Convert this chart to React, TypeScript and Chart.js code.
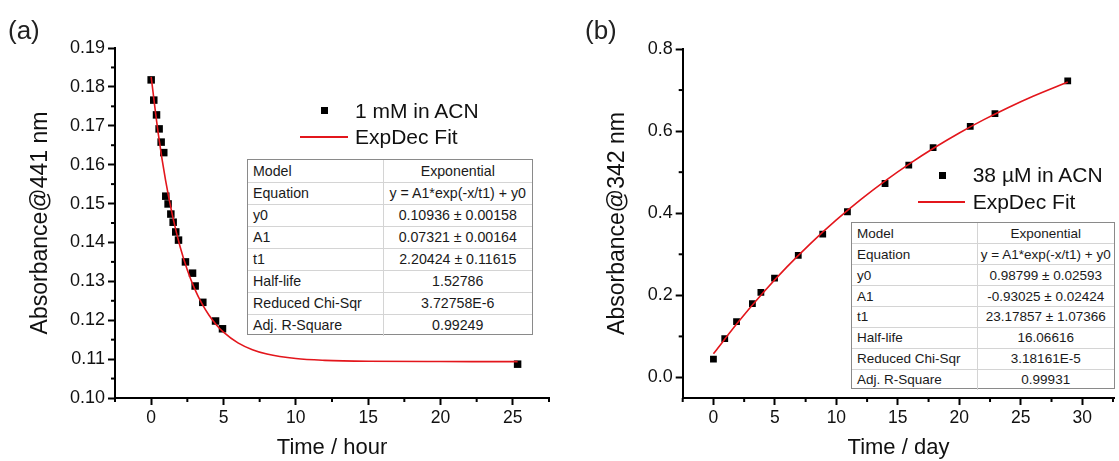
import React, { useEffect, useRef } from "react";
import { Chart, registerables } from "chart.js";
Chart.register(...registerables);

const FONT = "'Liberation Sans', Arial, sans-serif";
const RED = "#e3161c";

// ---------- Panel (a) ----------
const timeHourA = [0.0, 0.18, 0.37, 0.55, 0.69, 0.87, 1.01, 1.17, 1.36, 1.52, 1.7, 1.89, 2.37, 2.86, 3.04, 3.57, 4.45, 4.93, 25.33];
const absA = [0.1818, 0.1766, 0.1728, 0.1692, 0.1658, 0.1631, 0.1519, 0.1499, 0.1473, 0.1452, 0.1427, 0.1406, 0.135, 0.1321, 0.1288, 0.1246, 0.1198, 0.1178, 0.1087];
const fitTimeA = [0, 0.5, 1, 1.5, 2, 2.5, 3, 3.5, 4, 4.5, 5, 6, 7, 8, 10, 12, 15, 20, 25.33];
const fitAbsA = [0.18257, 0.16772, 0.15587, 0.14643, 0.13891, 0.13291, 0.12813, 0.12433, 0.12129, 0.11886, 0.11694, 0.11417, 0.11242, 0.1113, 0.11014, 0.10968, 0.10944, 0.10937, 0.10936];
const xMajorA = [0, 5, 10, 15, 20, 25];
const xMinorA = [-2.5, 2.5, 7.5, 12.5, 17.5, 22.5, 27.5];
const yMajorA = [0.1, 0.11, 0.12, 0.13, 0.14, 0.15, 0.16, 0.17, 0.18, 0.19];
const yMinorA = [0.105, 0.115, 0.125, 0.135, 0.145, 0.155, 0.165, 0.175, 0.185];
const tableA = [
  ["Model", "Exponential"],
  ["Equation", "y = A1*exp(-x/t1) + y0"],
  ["y0", "0.10936 ± 0.00158"],
  ["A1", "0.07321 ± 0.00164"],
  ["t1", "2.20424 ± 0.11615"],
  ["Half-life", "1.52786"],
  ["Reduced Chi-Sqr", "3.72758E-6"],
  ["Adj. R-Square", "0.99249"],
];

// ---------- Panel (b) ----------
const timeDayB = [0, 0.92, 1.88, 3.17, 3.86, 4.97, 6.9, 8.89, 10.9, 13.96, 15.89, 17.87, 20.89, 22.9, 28.82];
const absB = [0.0445, 0.0948, 0.136, 0.18, 0.2074, 0.2422, 0.2974, 0.349, 0.4036, 0.4724, 0.517, 0.5598, 0.6118, 0.6427, 0.7222];
const fitTimeB = [0, 2, 4, 6, 8, 10, 12, 14, 16, 18, 20, 22, 24, 26, 28.82];
const fitAbsB = [0.0577, 0.1346, 0.2052, 0.2699, 0.3292, 0.3837, 0.4337, 0.4795, 0.5215, 0.5601, 0.5955, 0.6279, 0.6577, 0.685, 0.7197];
const xMajorB = [0, 5, 10, 15, 20, 25, 30];
const xMinorB = [-2.5, 2.5, 7.5, 12.5, 17.5, 22.5, 27.5, 32.5];
const yMajorB = [0.0, 0.2, 0.4, 0.6, 0.8];
const yMinorB = [0.1, 0.3, 0.5, 0.7];
const tableB = [
  ["Model", "Exponential"],
  ["Equation", "y = A1*exp(-x/t1) + y0"],
  ["y0", "0.98799 ± 0.02593"],
  ["A1", "-0.93025 ± 0.02424"],
  ["t1", "23.17857 ± 1.07366"],
  ["Half-life", "16.06616"],
  ["Reduced Chi-Sqr", "3.18161E-5"],
  ["Adj. R-Square", "0.99931"],
];

const minorTicks = {
  id: "minorTicks",
  afterDraw(chart: any, _args: any, opts: any) {
    const { ctx } = chart;
    const xs = chart.scales.x;
    const ys = chart.scales.y;
    ctx.save();
    ctx.strokeStyle = "#000";
    ctx.lineWidth = 2;
    for (const v of opts.x || []) {
      const px = xs.getPixelForValue(v);
      ctx.beginPath();
      ctx.moveTo(px, ys.bottom);
      ctx.lineTo(px, ys.bottom + 4);
      ctx.stroke();
    }
    for (const v of opts.y || []) {
      const py = ys.getPixelForValue(v);
      ctx.beginPath();
      ctx.moveTo(xs.left, py);
      ctx.lineTo(xs.left - 4, py);
      ctx.stroke();
    }
    ctx.restore();
  },
};

interface PanelCfg {
  ptsX: number[];
  ptsY: number[];
  fitX: number[];
  fitY: number[];
  xMin: number;
  xMax: number;
  yMin: number;
  yMax: number;
  xMajor: number[];
  xMinor: number[];
  yMajor: number[];
  yMinor: number[];
  yDecimals: number;
  xTitle: string;
  yTitle: string;
  yAxisWidth: number;
  yTitlePad: number;
  padTop: number;
  padRight: number;
  pointRadius: number;
}

function buildConfig(p: PanelCfg): any {
  return {
    type: "scatter",
    data: {
      datasets: [
        {
          label: "fit",
          data: p.fitX.map((x, i) => ({ x, y: p.fitY[i] })),
          showLine: true,
          borderColor: RED,
          borderWidth: 1.6,
          pointRadius: 0,
          cubicInterpolationMode: "monotone",
          order: 0,
        },
        {
          label: "points",
          data: p.ptsX.map((x, i) => ({ x, y: p.ptsY[i] })),
          showLine: false,
          pointStyle: "rect",
          pointRadius: p.pointRadius,
          backgroundColor: "#000",
          borderColor: "#000",
          borderWidth: 0,
          order: 1,
        },
      ],
    },
    options: {
      animation: false,
      responsive: false,
      layout: { padding: { left: 0, top: p.padTop, right: p.padRight, bottom: 0 } },
      plugins: {
        legend: { display: false },
        tooltip: { enabled: false },
        minorTicks: { x: p.xMinor, y: p.yMinor },
      },
      scales: {
        x: {
          type: "linear",
          min: p.xMin,
          max: p.xMax,
          afterFit: (s: any) => {
            s.height = 63;
          },
          afterBuildTicks: (s: any) => {
            s.ticks = p.xMajor.map((v) => ({ value: v }));
          },
          ticks: {
            font: { family: FONT, size: 17.5 },
            color: "#111",
            padding: 3,
            maxRotation: 0,
            autoSkip: false,
            callback: (v: any) => String(v),
          },
          grid: { drawOnChartArea: false, drawTicks: true, tickLength: 7, tickWidth: 2, tickColor: "#000" },
          border: { color: "#000", width: 2 },
          title: {
            display: true,
            text: p.xTitle,
            font: { family: FONT, size: 22 },
            color: "#111",
            padding: { top: 0, bottom: 0 },
          },
        },
        y: {
          type: "linear",
          min: p.yMin,
          max: p.yMax,
          afterFit: (s: any) => {
            s.width = p.yAxisWidth;
          },
          afterBuildTicks: (s: any) => {
            s.ticks = p.yMajor.map((v) => ({ value: v }));
          },
          ticks: {
            font: { family: FONT, size: 18 },
            color: "#111",
            padding: 3,
            autoSkip: false,
            callback: (v: any) => Number(v).toFixed(p.yDecimals),
          },
          grid: { drawOnChartArea: false, drawTicks: true, tickLength: 7, tickWidth: 2, tickColor: "#000" },
          border: { color: "#000", width: 2 },
          title: {
            display: true,
            text: p.yTitle,
            font: { family: FONT, size: 23 },
            color: "#111",
            padding: { top: p.yTitlePad, bottom: 0 },
          },
        },
      },
    },
    plugins: [minorTicks],
  };
}

function ChartCanvas({ cfg, left, width }: { cfg: PanelCfg; left: number; width: number }) {
  const ref = useRef<HTMLCanvasElement | null>(null);
  useEffect(() => {
    if (!ref.current) return;
    const chart = new Chart(ref.current, buildConfig(cfg));
    return () => chart.destroy();
  }, []);
  return (
    <canvas
      ref={ref}
      width={width}
      height={461}
      style={{ position: "absolute", left, top: 0, width, height: 461 }}
    />
  );
}

function FitTable({ rows, left, top, width, height, col1, fontSize }: any) {
  const rowH = height / rows.length;
  return (
    <div
      style={{
        position: "absolute",
        left,
        top,
        width,
        height,
        boxSizing: "border-box",
        border: "1px solid #8a8a8a",
        background: "#fff",
      }}
    >
      <table
        style={{
          width: "100%",
          height: "100%",
          borderCollapse: "collapse",
          tableLayout: "fixed",
          fontFamily: FONT,
          fontSize,
          color: "#1a1a1a",
        }}
      >
        <colgroup>
          <col style={{ width: col1 }} />
          <col />
        </colgroup>
        <tbody>
          {rows.map((r: string[], i: number) => (
            <tr key={i} style={{ height: rowH }}>
              <td
                style={{
                  padding: "0 0 0 5px",
                  textAlign: "left",
                  whiteSpace: "nowrap",
                  borderTop: i > 0 ? "1px solid #d4d4d4" : "none",
                }}
              >
                {r[0]}
              </td>
              <td
                style={{
                  padding: 0,
                  textAlign: "center",
                  whiteSpace: "nowrap",
                  borderTop: i > 0 ? "1px solid #d4d4d4" : "none",
                  borderLeft: "1px solid #d4d4d4",
                }}
              >
                {r[1]}
              </td>
            </tr>
          ))}
        </tbody>
      </table>
    </div>
  );
}

function Legend({ markerX, markerY, lineX1, lineX2, lineY, textX, label1, label2 }: any) {
  const txt: React.CSSProperties = {
    position: "absolute",
    fontFamily: FONT,
    fontSize: 21,
    lineHeight: "24px",
    color: "#111",
    whiteSpace: "nowrap",
  };
  return (
    <>
      <div style={{ position: "absolute", left: markerX - 3.5, top: markerY - 3.5, width: 7, height: 7, background: "#000" }} />
      <div style={{ ...txt, left: textX, top: markerY - 12 }}>{label1}</div>
      <div style={{ position: "absolute", left: lineX1, top: Math.round(lineY) - 1, width: lineX2 - lineX1, height: 2, background: RED }} />
      <div style={{ ...txt, left: textX, top: lineY - 12 }}>{label2}</div>
    </>
  );
}

const panelA: PanelCfg = {
  ptsX: timeHourA,
  ptsY: absA,
  fitX: fitTimeA,
  fitY: fitAbsA,
  xMin: -2.5,
  xMax: 27.5,
  yMin: 0.1,
  yMax: 0.19,
  xMajor: xMajorA,
  xMinor: xMinorA,
  yMajor: yMajorA,
  yMinor: yMinorA,
  yDecimals: 2,
  xTitle: "Time / hour",
  yTitle: "Absorbance@441 nm",
  yAxisWidth: 115,
  yTitlePad: 27,
  padTop: 48,
  padRight: 11,
  pointRadius: 5.3,
};

const panelB: PanelCfg = {
  ptsX: timeDayB,
  ptsY: absB,
  fitX: fitTimeB,
  fitY: fitAbsB,
  xMin: -2.5,
  xMax: 32.6,
  yMin: -0.05,
  yMax: 0.8,
  xMajor: xMajorB,
  xMinor: xMinorB,
  yMajor: yMajorB,
  yMinor: yMinorB,
  yDecimals: 1,
  xTitle: "Time / day",
  yTitle: "Absorbance@342 nm",
  yAxisWidth: 122.7,
  yTitlePad: 44,
  padTop: 49,
  padRight: 0.3,
  pointRadius: 4.8,
};

export default function App() {
  const panelLabel: React.CSSProperties = {
    position: "absolute",
    top: 15,
    fontFamily: FONT,
    fontSize: 26,
    lineHeight: "30px",
    color: "#222",
  };
  return (
    <div style={{ position: "absolute", left: 0, top: 0, width: 1119, height: 461, background: "#fff", overflow: "hidden" }}>
      <ChartCanvas cfg={panelA} left={0} width={560} />
      <ChartCanvas cfg={panelB} left={560} width={559} />
      <div style={{ ...panelLabel, left: 8 }}>(a)</div>
      <div style={{ ...panelLabel, left: 585 }}>(b)</div>
      <Legend markerX={324} markerY={110.5} lineX1={300} lineX2={348} lineY={136.7} textX={355} label1="1 mM in ACN" label2="ExpDec Fit" />
      <Legend markerX={942.7} markerY={175} lineX1={918} lineX2={965} lineY={201.7} textX={972.7} label1="38 µM in ACN" label2="ExpDec Fit" />
      <FitTable rows={tableA} left={247} top={159} width={286} height={176} col1={135} fontSize={14.2} />
      <FitTable rows={tableB} left={851} top={222} width={264} height={167} col1={125} fontSize={13.5} />
    </div>
  );
}
